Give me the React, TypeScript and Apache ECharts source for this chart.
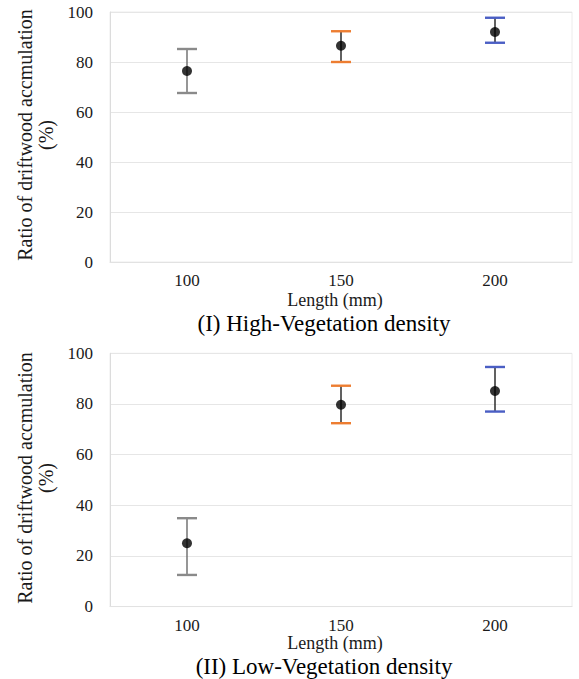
import React, { useEffect, useRef } from "react";
import * as echarts from "echarts";

const categories = ["100", "150", "200"];
const yTicks = [0, 20, 40, 60, 80, 100];

const highMean = [76.4, 86.5, 92.0];
const highLow = [67.6, 80.0, 87.7];
const highHigh = [85.2, 92.3, 97.7];

const lowMean = [25.0, 79.7, 85.1];
const lowLow = [12.5, 72.4, 77.0];
const lowHigh = [34.9, 87.2, 94.6];

const capColors = ["#8a8a8a", "#ED7D31", "#4A5EC4"];
const stemColors = ["#6a6a6a", "#1e1e1e", "#1e1e1e"];

const xTitle = "Length (mm)";
const yTitle = "Ratio of driftwood accmulation\n(%)";
const captions = ["(I) High-Vegetation density", "(II) Low-Vegetation density"];

const FONT = "Liberation Serif";

export default function App() {
  const ref = useRef<HTMLDivElement>(null);

  useEffect(() => {
    document.body.style.margin = "0";
    if (!ref.current) return;
    const chart = echarts.init(ref.current, null, { renderer: "svg" });

    const grids = [
      { left: 110, right: 7, top: 12, height: 250 },
      { left: 110, right: 7, top: 353.3, height: 253.3 },
    ];

    const makeX = (gi: number) => ({
      type: "category",
      gridIndex: gi,
      data: categories,
      boundaryGap: true,
      axisTick: { show: false },
      axisLine: { show: true, lineStyle: { color: "#e2e2e2", width: 1 } },
      axisLabel: {
        fontFamily: FONT,
        fontSize: 17,
        color: "#1a1a1a",
        margin: 10,
      },
      splitLine: { show: false },
    });

    const makeY = (gi: number) => ({
      type: "value",
      gridIndex: gi,
      min: yTicks[0],
      max: yTicks[yTicks.length - 1],
      interval: 20,
      axisTick: { show: false },
      axisLine: { show: true, lineStyle: { color: "#dcdcdc", width: 1 } },
      axisLabel: {
        fontFamily: FONT,
        fontSize: 17,
        color: "#1a1a1a",
        margin: 17,
      },
      splitLine: { show: true, lineStyle: { color: "#e6e6e6", width: 1 } },
    });

    const errRender = (params: any, api: any) => {
      const idx = params.dataIndex;
      const ci = api.value(0);
      const top = api.coord([ci, api.value(2)]);
      const bot = api.coord([ci, api.value(1)]);
      const hw = 10;
      return {
        type: "group",
        children: [
          {
            type: "line",
            shape: { x1: top[0], y1: top[1], x2: bot[0], y2: bot[1] },
            style: { stroke: stemColors[idx], lineWidth: 1.4 },
          },
          {
            type: "line",
            shape: { x1: top[0] - hw, y1: top[1], x2: top[0] + hw, y2: top[1] },
            style: { stroke: capColors[idx], lineWidth: 2.4 },
          },
          {
            type: "line",
            shape: { x1: bot[0] - hw, y1: bot[1], x2: bot[0] + hw, y2: bot[1] },
            style: { stroke: capColors[idx], lineWidth: 2.4 },
          },
        ],
      };
    };

    const errSeries = (gi: number, lo: number[], hi: number[]) => ({
      type: "custom",
      xAxisIndex: gi,
      yAxisIndex: gi,
      renderItem: errRender,
      data: categories.map((_, i) => [i, lo[i], hi[i]]),
      z: 2,
      silent: true,
    });

    const ptSeries = (gi: number, m: number[]) => ({
      type: "scatter",
      xAxisIndex: gi,
      yAxisIndex: gi,
      data: categories.map((c, i) => [c, m[i]]),
      symbol: "circle",
      symbolSize: 10,
      itemStyle: { color: "#000" },
      z: 3,
      silent: true,
    });

    const textStyle = (size: number, color: string) => ({
      fontFamily: FONT,
      fontSize: size,
      fill: color,
      textAlign: "center",
      textVerticalAlign: "middle",
    });

    const graphics: any[] = [];
    const titleY = [300, 643];
    const capY = [323, 666];
    const yTitleCenter = [135, 478];
    for (let g = 0; g < 2; g++) {
      graphics.push({
        type: "text",
        x: 335,
        y: titleY[g],
        style: { text: xTitle, ...textStyle(18, "#1a1a1a") },
      });
      graphics.push({
        type: "text",
        x: 324,
        y: capY[g],
        style: { text: captions[g], ...textStyle(23, "#000") },
      });
      graphics.push({
        type: "text",
        x: 35,
        y: yTitleCenter[g],
        rotation: Math.PI / 2,
        style: {
          text: yTitle,
          lineHeight: 21,
          ...textStyle(20, "#1a1a1a"),
        },
      });
    }

    chart.setOption({
      animation: false,
      backgroundColor: "#fff",
      grid: grids.map((g) => ({
        ...g,
        show: true,
        borderColor: "#ececec",
        borderWidth: 1,
        containLabel: false,
      })),
      xAxis: [makeX(0), makeX(1)],
      yAxis: [makeY(0), makeY(1)],
      series: [
        errSeries(0, highLow, highHigh),
        ptSeries(0, highMean),
        errSeries(1, lowLow, lowHigh),
        ptSeries(1, lowMean),
      ],
      graphic: graphics,
    });

    return () => chart.dispose();
  }, []);

  return <div ref={ref} style={{ width: 579, height: 679 }} />;
}
